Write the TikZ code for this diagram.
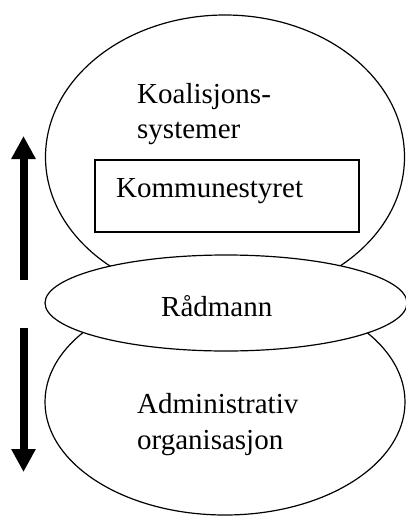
\documentclass[tikz,border=0pt]{standalone}
\usepackage{fontspec}
\setmainfont{Liberation Serif}
\usetikzlibrary{shapes.geometric,arrows.meta}
\begin{document}
\begin{tikzpicture}[x=1pt,y=-1pt,
  oval/.style={ellipse,draw,line width=1.2pt,inner sep=0pt},
  label/.style={anchor=base west,inner sep=0pt,font=\fontsize{29}{35}\selectfont},
  flow/.style={line width=8pt,-{Triangle[width=23pt,length=23pt]}}]
  \useasboundingbox (0,0) rectangle (406,516);
  % outer sphere: political coalition systems
  \node[oval,minimum width=359pt,minimum height=284pt] (koal) at (225,157) {};
  % lower sphere: administrative organisation
  \node[oval,minimum width=360pt,minimum height=226pt] (adm) at (225,402) {};
  % chief executive links both spheres
  \node[oval,fill=white,minimum width=362pt,minimum height=96pt] (rad) at (226,303) {};
  % council box
  \node[draw,line width=1.3pt,minimum width=264pt,minimum height=72pt,inner sep=0pt] (ks) at (227,196) {};
  \node[label] (t1) at (137,103) {Koalisjons-};
  \node[label] (t2) at (137,138) {systemer};
  \node[label] (t3) at (116,197) {Kommunestyret};
  \node[label] (t4) at (161,316) {Rådmann};
  \node[label] (t5) at (137,413) {Administrativ};
  \node[label] (t6) at (137,449) {organisasjon};
  % direction arrows
  \coordinate (upS) at (23.5,280);
  \coordinate (upE) at (23.5,136);
  \coordinate (dnS) at (23.5,328);
  \coordinate (dnE) at (23.5,472);
  \draw[flow] (upS) -- (upE);
  \draw[flow] (dnS) -- (dnE);
\end{tikzpicture}
\end{document}
